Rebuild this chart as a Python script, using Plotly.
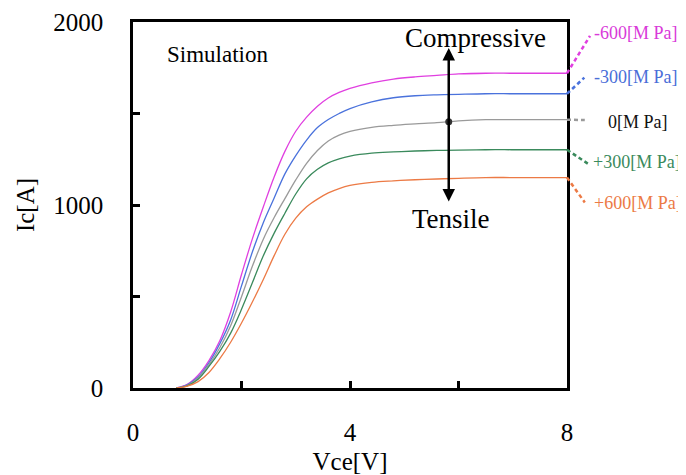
import plotly.graph_objects as go

# ---- data ----
vce = [0.8, 1.0, 1.2, 1.4, 1.6, 1.8, 2.0, 2.2, 2.4, 2.6, 2.8, 3.0, 3.2, 3.4, 3.6,
       3.8, 4.0, 4.4, 4.8, 5.2, 5.6, 6.0, 6.5, 7.0, 7.5, 8.0]

ic_m600 = [0, 20, 70, 150, 258, 415, 620, 815, 988, 1152, 1293, 1403, 1480, 1540, 1585,
           1615, 1637, 1667, 1688, 1700, 1708, 1716, 1720, 1720, 1720, 1720]
ic_m300 = [0, 18, 60, 138, 242, 372, 558, 743, 902, 1037, 1170, 1270, 1355, 1423, 1467,
           1500, 1527, 1563, 1586, 1597, 1602, 1605, 1608, 1608, 1608, 1608]
ic_0 = [0, 15, 55, 128, 220, 340, 499, 665, 812, 930, 1035, 1137, 1228, 1298, 1350,
        1382, 1402, 1424, 1435, 1443, 1450, 1460, 1466, 1466, 1466, 1466]
ic_p300 = [0, 12, 48, 118, 200, 300, 430, 575, 721, 845, 955, 1060, 1143, 1195, 1230,
           1252, 1267, 1283, 1290, 1295, 1298, 1300, 1302, 1302, 1302, 1302]
ic_p600 = [0, 10, 35, 85, 160, 250, 355, 470, 592, 722, 840, 928, 990, 1032, 1066,
           1090, 1107, 1124, 1132, 1138, 1142, 1146, 1150, 1150, 1150, 1150]

series_names = ["-600[M Pa]", "-300[M Pa]", "0[M Pa]", "+300[M Pa]", "+600[M Pa]"]
series_values = [ic_m600, ic_m300, ic_0, ic_p300, ic_p600]
line_colors = ["#e03fe0", "#4a72dc", "#9a9a9a", "#3a8a5c", "#ec7a45"]
label_colors = ["#d93ad9", "#4a6ed8", "#111111", "#3a8a5c", "#ec7a45"]

x_ticks = [0, 2, 4, 6, 8]
x_ticktext = ["0", "", "4", "", "8"]
y_ticks = [0, 500, 1000, 1500, 2000]
y_ticktext = ["0", "", "1000", "", "2000"]

# label anchor positions (paper coords) for the right-side labels
label_pos = [(1.058, 0.970), (1.058, 0.850), (1.090, 0.727), (1.055, 0.617), (1.058, 0.505)]
connector_end = [(1.053, 0.962), (1.040, 0.848), (1.041, 0.732), (1.053, 0.609), (1.041, 0.507)]

arrow_x = 5.82
arrow_top = 1858
arrow_bottom = 1011

FONT = "Liberation Serif, Times New Roman, serif"

fig = go.Figure()
for name, vals, col in zip(series_names, series_values, line_colors):
    fig.add_trace(go.Scatter(x=vce, y=vals, mode="lines", name=name,
                             line=dict(color=col, width=1.3, shape="spline", smoothing=1.0),
                             showlegend=False, hoverinfo="x+y+name"))

# marker at the centre of the arrow on the 0 MPa curve
fig.add_trace(go.Scatter(x=[arrow_x], y=[1455], mode="markers",
                         marker=dict(color="#333333", size=7, symbol="circle"),
                         showlegend=False, hoverinfo="skip"))

shapes = []
annotations = []
for name, vals, col, lcol, (lx, ly), (cx, cy) in zip(series_names, series_values, line_colors,
                                                      label_colors, label_pos, connector_end):
    shapes.append(dict(type="line", xref="paper", yref="paper",
                       x0=vce[-1] / 8, y0=vals[-1] / 2000, x1=cx, y1=cy,
                       line=dict(color=col, width=2.5, dash="4px,3px")))
    annotations.append(dict(xref="paper", yref="paper", x=lx, y=ly, text=name,
                            showarrow=False, xanchor="left", yanchor="middle",
                            font=dict(family=FONT, size=18, color=lcol)))

annotations += [
    dict(x=arrow_x, y=arrow_top, ax=arrow_x, ay=arrow_bottom, xref="x", yref="y",
         axref="x", ayref="y", showarrow=True, arrowside="end+start", arrowhead=2,
         arrowsize=1.0, arrowwidth=2.5, arrowcolor="black", text=""),
    dict(xref="paper", yref="paper", x=0.194, y=0.91, text="Simulation", showarrow=False,
         xanchor="center", yanchor="middle",
         font=dict(family=FONT, size=23, color="black")),
    dict(xref="paper", yref="paper", x=0.790, y=0.956, text="Compressive", showarrow=False,
         xanchor="center", yanchor="middle",
         font=dict(family=FONT, size=27, color="black")),
    dict(xref="paper", yref="paper", x=0.733, y=0.462, text="Tensile", showarrow=False,
         xanchor="center", yanchor="middle",
         font=dict(family=FONT, size=27, color="black")),
]

fig.update_layout(
    width=678, height=467,
    margin=dict(l=125, r=119, t=14, b=87),
    paper_bgcolor="white", plot_bgcolor="white",
    font=dict(family=FONT, size=25, color="black"),
    shapes=shapes, annotations=annotations,
    xaxis=dict(range=[0, 8], tickvals=x_ticks, ticktext=x_ticktext, automargin=False,
               ticks="inside", ticklen=7, tickwidth=2.5, tickcolor="black",
               showline=True, linewidth=2.5, linecolor="black", mirror=True,
               showgrid=False, zeroline=False, ticklabelstandoff=20,
               title=dict(text="Vce[V]", standoff=8, font=dict(size=25))),
    yaxis=dict(range=[0, 2000], tickvals=y_ticks, ticktext=y_ticktext, automargin=False,
               ticks="inside", ticklen=7, tickwidth=2.5, tickcolor="black",
               showline=True, linewidth=2.5, linecolor="black", mirror=True,
               showgrid=False, zeroline=False, ticklabelstandoff=22,
               title=dict(text="Ic[A]", standoff=12, font=dict(size=25))),
)

fig.write_html("out.html")
